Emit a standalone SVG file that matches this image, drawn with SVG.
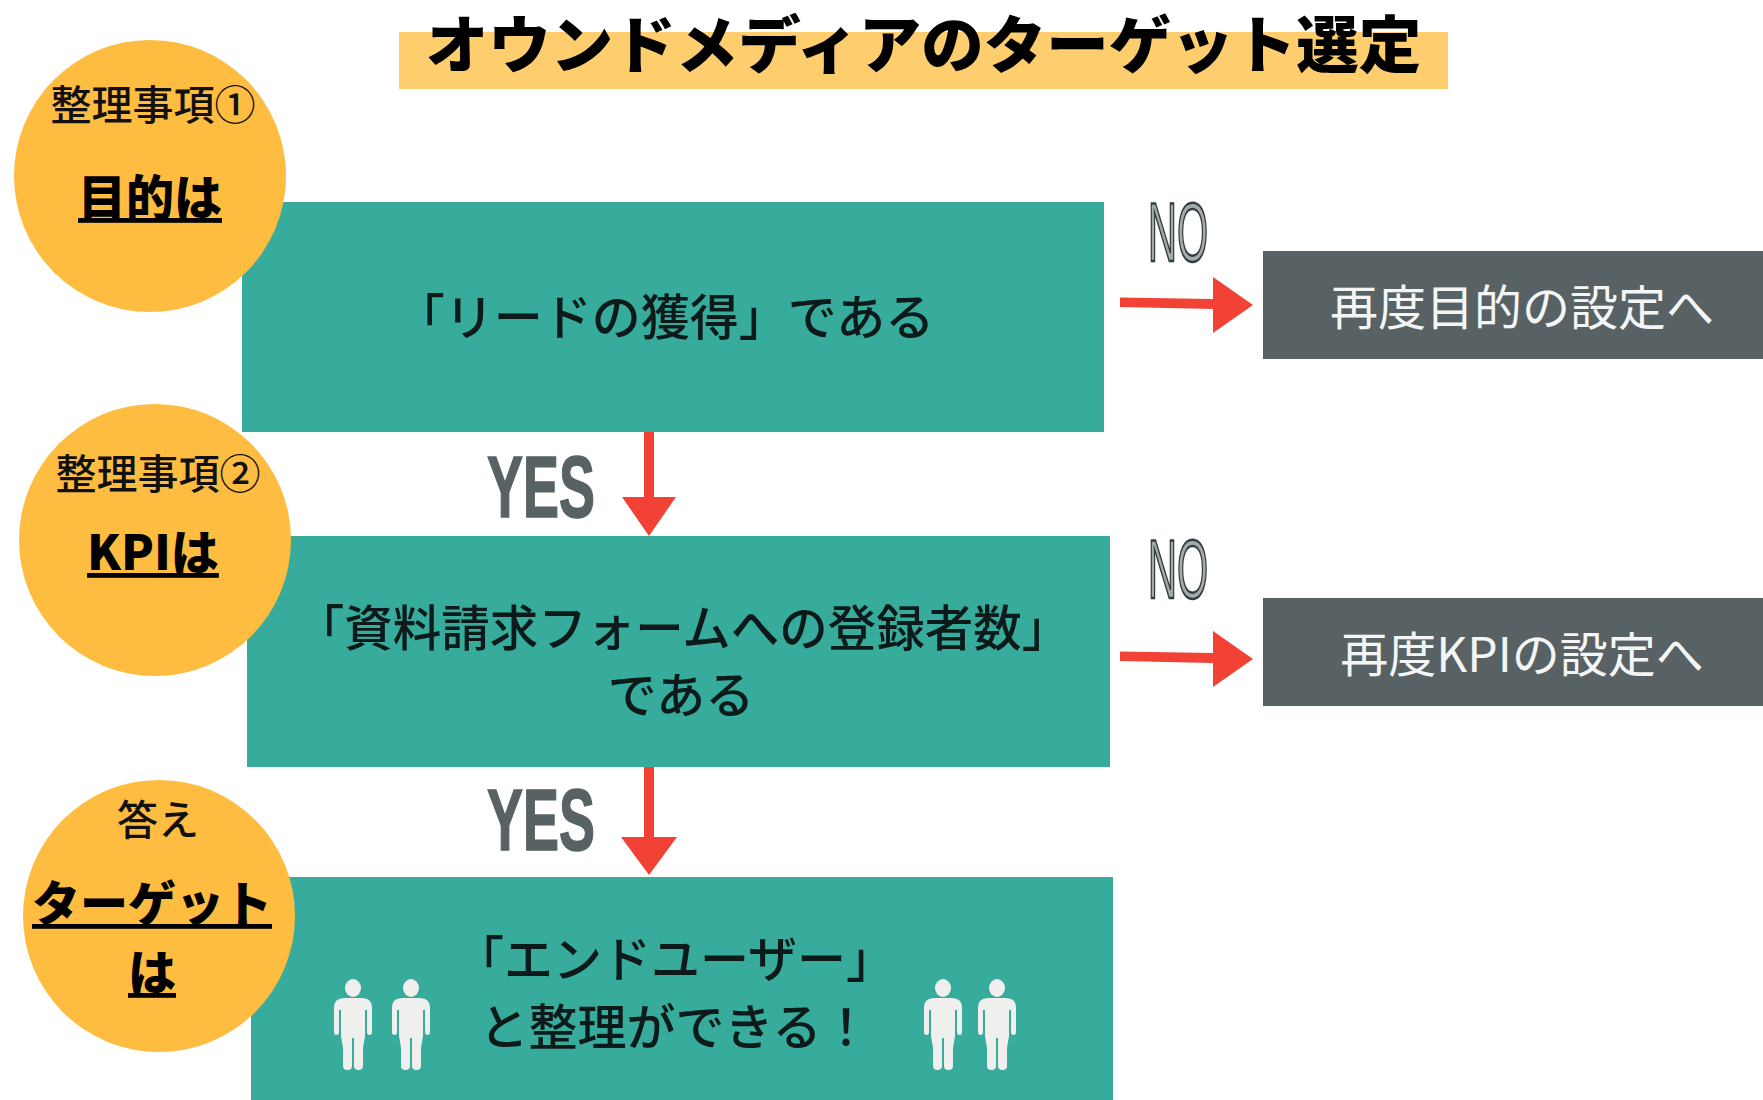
<svg xmlns="http://www.w3.org/2000/svg" width="1763" height="1100" viewBox="0 0 1763 1100">
<defs>
<style>
text{font-family:"Noto Sans CJK JP","Noto Sans",sans-serif;text-anchor:middle}
.c{fill:#febc40}.t{fill:#37ab9c}.g{fill:#586264}
.h{font-size:41px;font-weight:500;fill:#111}
.b{font-size:48px;font-weight:900;fill:#000;text-decoration:underline}
.m{font-size:49px;font-weight:500;fill:#0c1a1a}
.w{font-size:48px;fill:#f4f6f6}
.yes{font-family:"Liberation Sans",sans-serif;font-weight:700;font-size:88px;fill:#586264;stroke:#586264;stroke-width:1.5}
.no{font-family:"Liberation Sans",sans-serif;font-size:84px;fill:#a4abab;stroke:#343e40;stroke-width:2.5}
.ar{fill:#f24236}
.p{fill:#eff0ee}
</style>
<g id="person"><ellipse cx="0" cy="-52" rx="8" ry="9"/><path d="M-9-42H9Q19-42 19-32V-8Q19-5 16.500-5T14-8V-30H12V-4L10 8V26Q10 30 5.500 30T1 26V-2H-1V26Q-1 30-5.500 30T-10 26V8L-12-4V-30H-14V-8Q-14-5-16.500-5T-19-8V-32Q-19-42-9-42Z"/></g>
<path id="dn" d="M-5 0H5V65H27L0 104-27 65H-5Z"/>
<path id="dn2" d="M-5 0H5V70H28L0 108-28 70H-5Z"/>
<path id="rt" d="M0-4.500L93-3V-25L133 3 93 31V7L0 5Z"/>
</defs>
<rect width="1763" height="1100" fill="#fff"/>
<g id="title"><rect x="399" y="32" width="1049" height="57" fill="#fecd6d"/><text x="923.500" y="68" font-size="62.500" font-weight="900" fill="#000">オウンドメディアのターゲット選定</text></g>
<g id="node-lead"><rect class="t" x="242" y="202" width="862" height="230"/><text class="m" x="665" y="335">「リードの獲得」である</text></g>
<g id="node-kpi"><rect class="t" x="247" y="536" width="863" height="231"/><text class="m" x="683" y="646" style="font-size:48.500px">「資料請求フォームへの登録者数」</text><text class="m" x="681" y="713">である</text></g>
<g id="node-user"><rect class="t" x="251" y="877" width="862" height="223"/><text class="m" x="675" y="977">「エンドユーザー」</text><text class="m" x="675" y="1045">と整理ができる！</text>
<g class="p"><use href="#person" x="353" y="1040"/><use href="#person" x="411" y="1040"/><use href="#person" x="943" y="1040"/><use href="#person" x="997" y="1040"/></g></g>
<g id="circle-1"><circle class="c" cx="150" cy="176" r="136"/><text class="h" x="153" y="120">整理事項①</text><text class="b" x="150" y="215">目的は</text></g>
<g id="circle-2"><circle class="c" cx="155" cy="540" r="136"/><text class="h" x="158" y="489">整理事項②</text><text class="b" x="153" y="570">KPIは</text></g>
<g id="circle-3"><circle class="c" cx="159" cy="916" r="136"/><text class="h" x="158" y="835">答え</text><text class="b" x="152" y="921">ターゲット</text><text class="b" x="152" y="990">は</text></g>
<g id="retry-goal"><rect class="g" x="1263" y="251" width="500" height="108"/><text class="w" x="1522" y="325">再度目的の設定へ</text></g>
<g id="retry-kpi"><rect class="g" x="1263" y="598" width="500" height="108"/><text class="w" x="1522" y="672">再度KPIの設定へ</text></g>
<g id="connectors">
<use class="ar" href="#dn" x="649" y="432"/><use class="ar" href="#dn2" x="649" y="767"/>
<use class="ar" href="#rt" x="1120" y="302"/><use class="ar" href="#rt" x="1120" y="656"/>
<text class="yes" x="541" y="517" textLength="108" lengthAdjust="spacingAndGlyphs">YES</text>
<text class="yes" x="541" y="850" textLength="108" lengthAdjust="spacingAndGlyphs">YES</text>
<text class="no" x="1178" y="261" textLength="60" lengthAdjust="spacingAndGlyphs">NO</text>
<text class="no" x="1178" y="598" textLength="60" lengthAdjust="spacingAndGlyphs">NO</text>
</g>
</svg>
